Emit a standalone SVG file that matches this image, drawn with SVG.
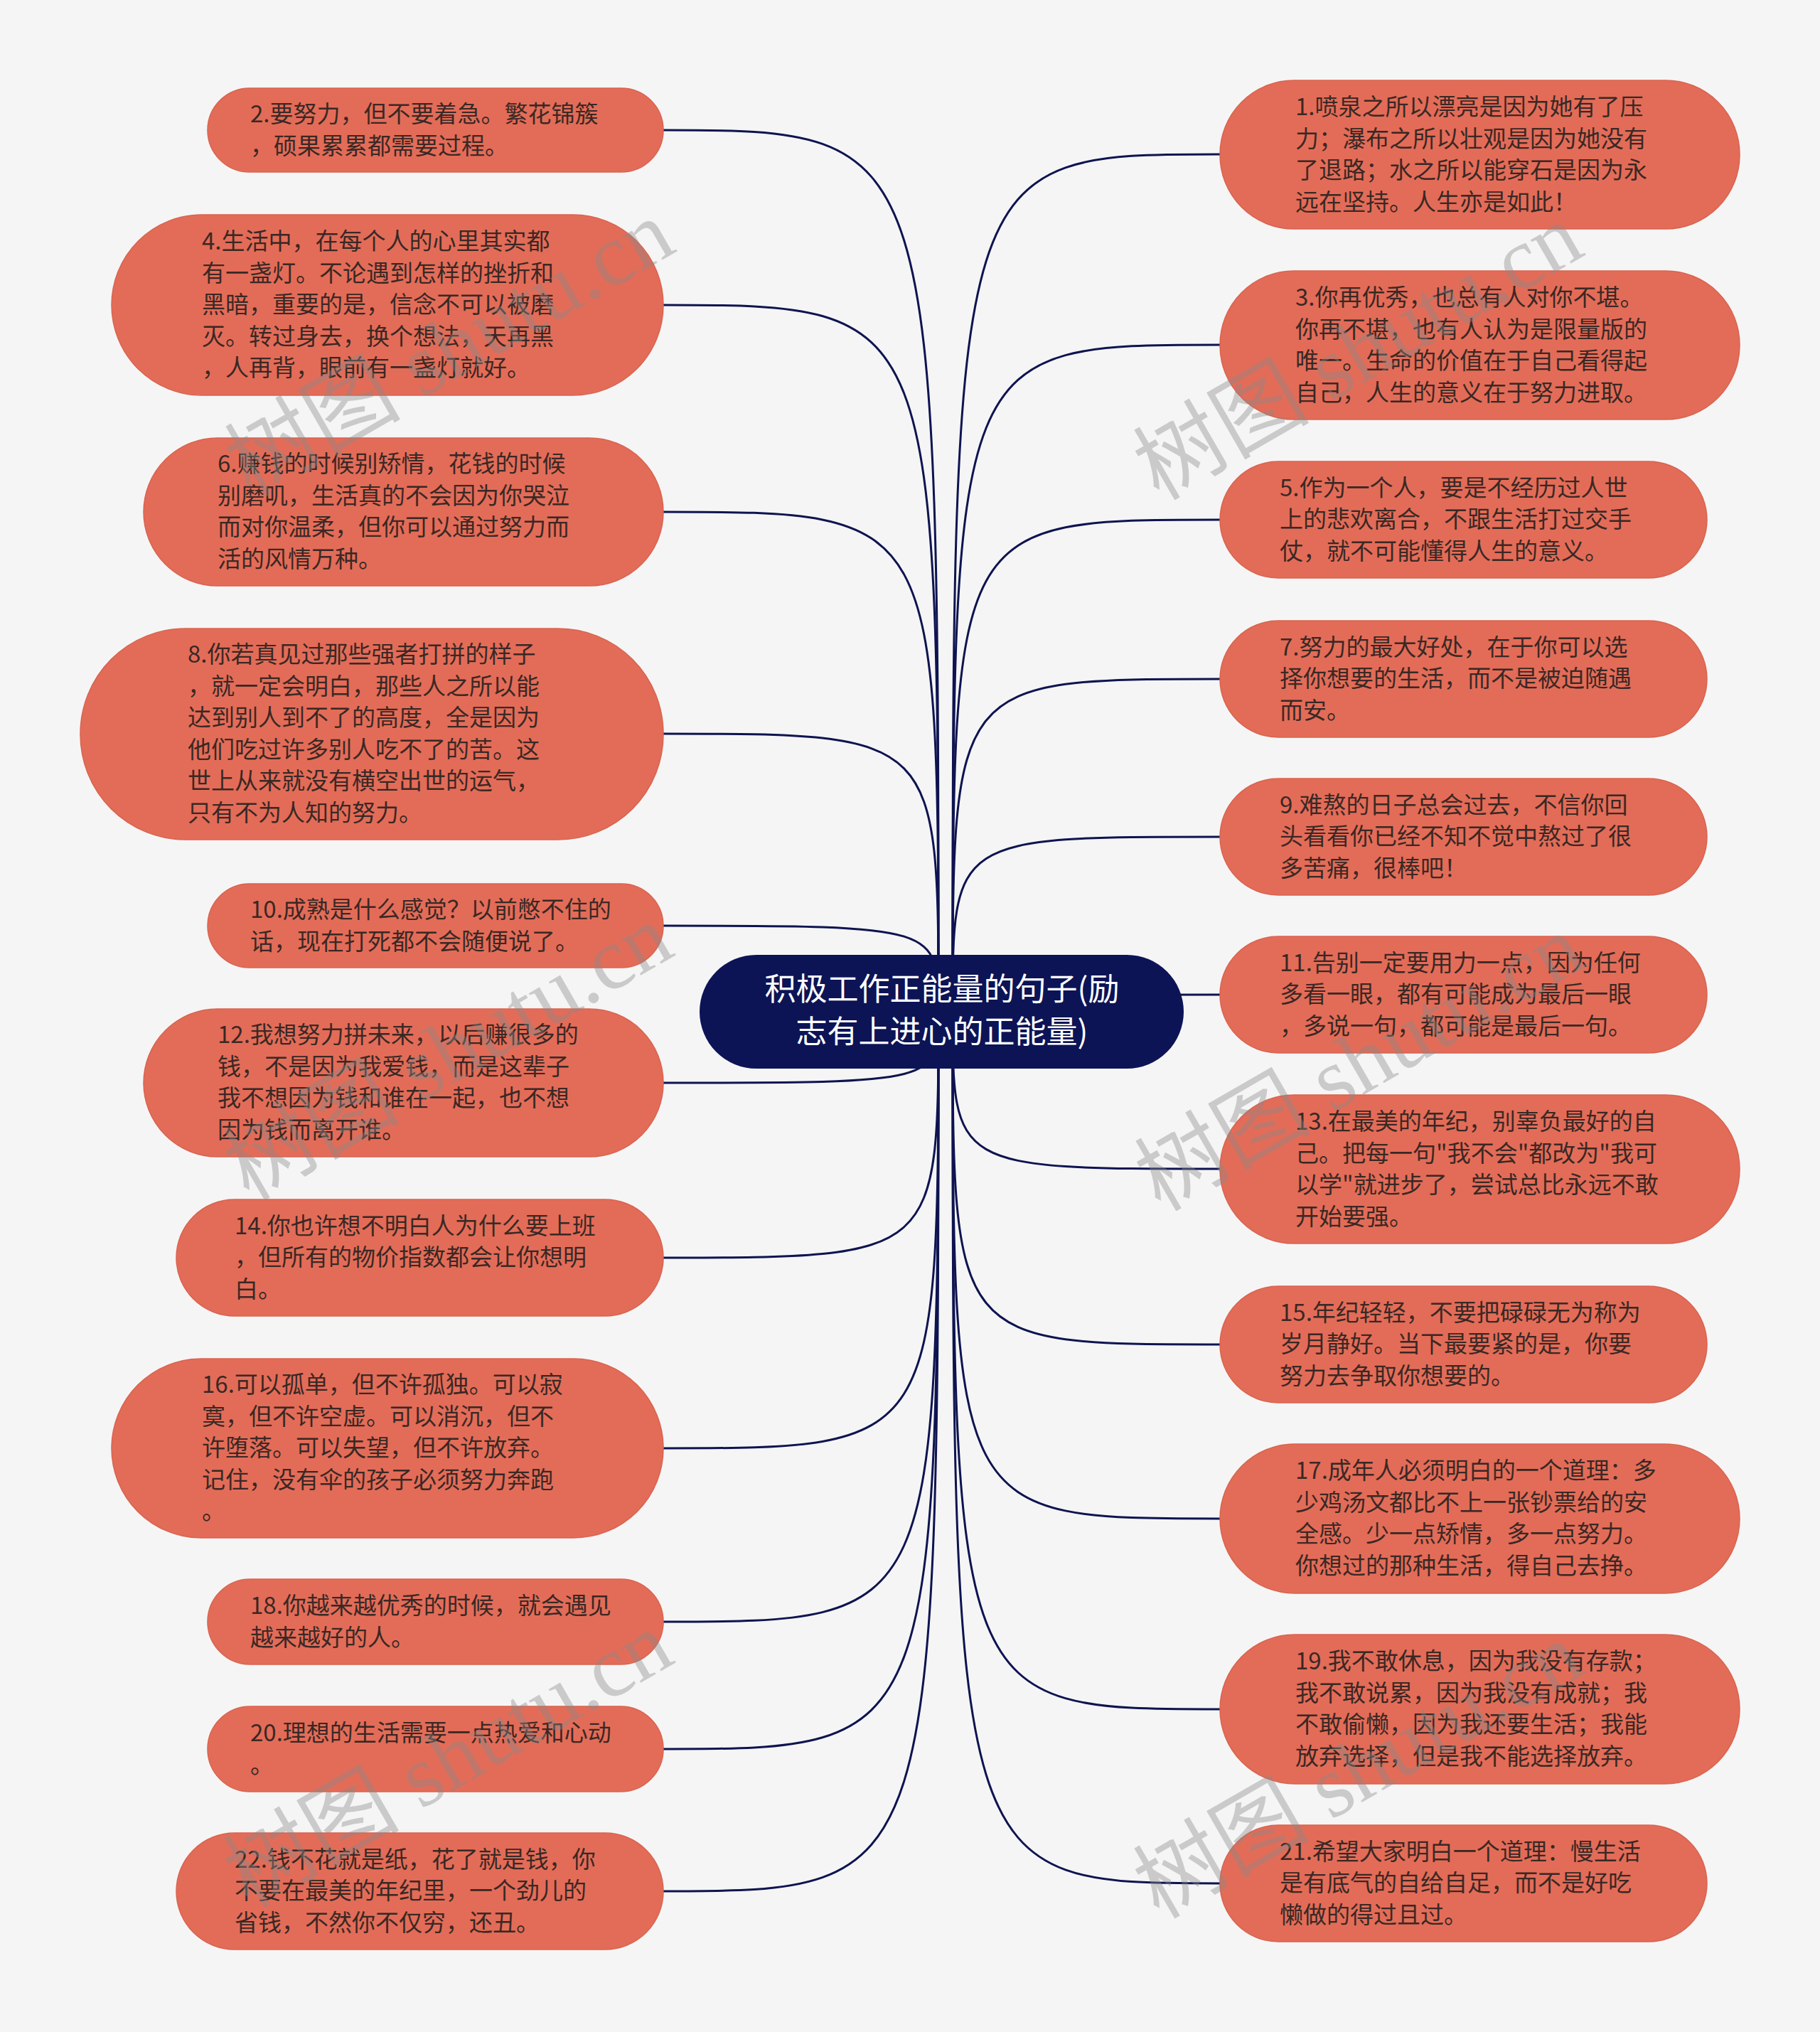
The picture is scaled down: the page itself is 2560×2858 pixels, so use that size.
<svg xmlns="http://www.w3.org/2000/svg" width="2560" height="2858" viewBox="0 0 2560 2858">
<style>
.bg{fill:#f5f5f5}
.node{fill:#e36c58;stroke:#d9634f;stroke-width:1.5}
.t{font-family:"Noto Sans CJK SC","Noto Sans",sans-serif;font-size:33px;fill:#3a2824}
.root{fill:#0c1456}
.rt{font-family:"Noto Sans CJK SC","Noto Sans",sans-serif;font-size:44px;fill:#ffffff;text-anchor:middle}
.c{fill:none;stroke:#0e1450;stroke-width:3}
.wm{font-family:"Liberation Serif","Noto Sans CJK SC",serif;font-size:124px;fill:#8a8a8a;fill-opacity:0.4}
</style>
<rect class="bg" x="0" y="0" width="2560" height="2858"/>
<g id="connectors">
<path class="c" d="M933 183 C1320 183 1320 183 1320 1423"/>
<path class="c" d="M933 429 C1320 429 1320 429 1320 1423"/>
<path class="c" d="M933 720 C1320 720 1320 720 1320 1423"/>
<path class="c" d="M933 1032 C1320 1032 1320 1032 1320 1423"/>
<path class="c" d="M933 1302 C1320 1302 1320 1302 1320 1423"/>
<path class="c" d="M933 1523 C1320 1523 1320 1523 1320 1423"/>
<path class="c" d="M933 1769 C1320 1769 1320 1769 1320 1423"/>
<path class="c" d="M933 2037 C1320 2037 1320 2037 1320 1423"/>
<path class="c" d="M933 2281 C1320 2281 1320 2281 1320 1423"/>
<path class="c" d="M933 2460 C1320 2460 1320 2460 1320 1423"/>
<path class="c" d="M933 2660 C1320 2660 1320 2660 1320 1423"/>
<path class="c" d="M1716 217 C1340 217 1340 217 1340 1423"/>
<path class="c" d="M1716 485 C1340 485 1340 485 1340 1423"/>
<path class="c" d="M1716 731 C1340 731 1340 731 1340 1423"/>
<path class="c" d="M1716 955 C1340 955 1340 955 1340 1423"/>
<path class="c" d="M1716 1177 C1340 1177 1340 1177 1340 1423"/>
<path class="c" d="M1716 1399 C1340 1399 1340 1399 1340 1423"/>
<path class="c" d="M1716 1644 C1340 1644 1340 1644 1340 1423"/>
<path class="c" d="M1716 1891 C1340 1891 1340 1891 1340 1423"/>
<path class="c" d="M1716 2136 C1340 2136 1340 2136 1340 1423"/>
<path class="c" d="M1716 2404 C1340 2404 1340 2404 1340 1423"/>
<path class="c" d="M1716 2649 C1340 2649 1340 2649 1340 1423"/>
</g>
<g id="root">
<rect class="root" x="984" y="1343" width="681" height="160" rx="80"/>
<text class="rt" x="1325" y="1407">积极工作正能量的句子(励</text>
<text class="rt" x="1325" y="1467">志有上进心的正能量)</text>
</g>
<g id="n2">
<rect class="node" x="292" y="124" width="641" height="118" rx="59"/>
<text class="t" y="172"><tspan x="352">2.要努力，但不要着急。繁花锦簇</tspan><tspan x="352" dy="44.5">，硕果累累都需要过程。</tspan></text>
</g>
<g id="n4">
<rect class="node" x="157" y="302" width="776" height="254" rx="127"/>
<text class="t" y="351"><tspan x="284">4.生活中，在每个人的心里其实都</tspan><tspan x="284" dy="44.5">有一盏灯。不论遇到怎样的挫折和</tspan><tspan x="284" dy="44.5">黑暗，重要的是，信念不可以被磨</tspan><tspan x="284" dy="44.5">灭。转过身去，换个想法，天再黑</tspan><tspan x="284" dy="44.5">，人再背，眼前有一盏灯就好。</tspan></text>
</g>
<g id="n6">
<rect class="node" x="202" y="616" width="731" height="208" rx="104"/>
<text class="t" y="664"><tspan x="306">6.赚钱的时候别矫情，花钱的时候</tspan><tspan x="306" dy="44.5">别磨叽，生活真的不会因为你哭泣</tspan><tspan x="306" dy="44.5">而对你温柔，但你可以通过努力而</tspan><tspan x="306" dy="44.5">活的风情万种。</tspan></text>
</g>
<g id="n8">
<rect class="node" x="113" y="884" width="820" height="297" rx="148"/>
<text class="t" y="932"><tspan x="264">8.你若真见过那些强者打拼的样子</tspan><tspan x="264" dy="44.5">，就一定会明白，那些人之所以能</tspan><tspan x="264" dy="44.5">达到别人到不了的高度，全是因为</tspan><tspan x="264" dy="44.5">他们吃过许多别人吃不了的苦。这</tspan><tspan x="264" dy="44.5">世上从来就没有横空出世的运气，</tspan><tspan x="264" dy="44.5">只有不为人知的努力。</tspan></text>
</g>
<g id="n10">
<rect class="node" x="292" y="1243" width="641" height="118" rx="59"/>
<text class="t" y="1291"><tspan x="352">10.成熟是什么感觉？以前憋不住的</tspan><tspan x="352" dy="44.5">话，现在打死都不会随便说了。</tspan></text>
</g>
<g id="n12">
<rect class="node" x="202" y="1419" width="731" height="208" rx="104"/>
<text class="t" y="1467"><tspan x="306">12.我想努力拼未来，以后赚很多的</tspan><tspan x="306" dy="44.5">钱，不是因为我爱钱，而是这辈子</tspan><tspan x="306" dy="44.5">我不想因为钱和谁在一起，也不想</tspan><tspan x="306" dy="44.5">因为钱而离开谁。</tspan></text>
</g>
<g id="n14">
<rect class="node" x="248" y="1687" width="685" height="164" rx="82"/>
<text class="t" y="1735.5"><tspan x="330">14.你也许想不明白人为什么要上班</tspan><tspan x="330" dy="44.5">，但所有的物价指数都会让你想明</tspan><tspan x="330" dy="44.5">白。</tspan></text>
</g>
<g id="n16">
<rect class="node" x="157" y="1911" width="776" height="252" rx="126"/>
<text class="t" y="1959"><tspan x="284">16.可以孤单，但不许孤独。可以寂</tspan><tspan x="284" dy="44.5">寞，但不许空虚。可以消沉，但不</tspan><tspan x="284" dy="44.5">许堕落。可以失望，但不许放弃。</tspan><tspan x="284" dy="44.5">记住，没有伞的孩子必须努力奔跑</tspan><tspan x="284" dy="44.5">。</tspan></text>
</g>
<g id="n18">
<rect class="node" x="292" y="2221" width="641" height="120" rx="60"/>
<text class="t" y="2270"><tspan x="352">18.你越来越优秀的时候，就会遇见</tspan><tspan x="352" dy="44.5">越来越好的人。</tspan></text>
</g>
<g id="n20">
<rect class="node" x="292" y="2400" width="641" height="120" rx="60"/>
<text class="t" y="2449"><tspan x="352">20.理想的生活需要一点热爱和心动</tspan><tspan x="352" dy="44.5">。</tspan></text>
</g>
<g id="n22">
<rect class="node" x="248" y="2578" width="685" height="164" rx="82"/>
<text class="t" y="2626.5"><tspan x="330">22.钱不花就是纸，花了就是钱，你</tspan><tspan x="330" dy="44.5">不要在最美的年纪里，一个劲儿的</tspan><tspan x="330" dy="44.5">省钱，不然你不仅穷，还丑。</tspan></text>
</g>
<g id="n1">
<rect class="node" x="1716" y="113" width="731" height="209" rx="104"/>
<text class="t" y="162"><tspan x="1822">1.喷泉之所以漂亮是因为她有了压</tspan><tspan x="1822" dy="44.5">力；瀑布之所以壮观是因为她没有</tspan><tspan x="1822" dy="44.5">了退路；水之所以能穿石是因为永</tspan><tspan x="1822" dy="44.5">远在坚持。人生亦是如此！</tspan></text>
</g>
<g id="n3">
<rect class="node" x="1716" y="381" width="731" height="209" rx="104"/>
<text class="t" y="430"><tspan x="1822">3.你再优秀，也总有人对你不堪。</tspan><tspan x="1822" dy="44.5">你再不堪，也有人认为是限量版的</tspan><tspan x="1822" dy="44.5">唯一。生命的价值在于自己看得起</tspan><tspan x="1822" dy="44.5">自己，人生的意义在于努力进取。</tspan></text>
</g>
<g id="n5">
<rect class="node" x="1716" y="649" width="685" height="164" rx="82"/>
<text class="t" y="697.5"><tspan x="1800">5.作为一个人，要是不经历过人世</tspan><tspan x="1800" dy="44.5">上的悲欢离合，不跟生活打过交手</tspan><tspan x="1800" dy="44.5">仗，就不可能懂得人生的意义。</tspan></text>
</g>
<g id="n7">
<rect class="node" x="1716" y="873" width="685" height="164" rx="82"/>
<text class="t" y="921.5"><tspan x="1800">7.努力的最大好处，在于你可以选</tspan><tspan x="1800" dy="44.5">择你想要的生活，而不是被迫随遇</tspan><tspan x="1800" dy="44.5">而安。</tspan></text>
</g>
<g id="n9">
<rect class="node" x="1716" y="1095" width="685" height="164" rx="82"/>
<text class="t" y="1143.5"><tspan x="1800">9.难熬的日子总会过去，不信你回</tspan><tspan x="1800" dy="44.5">头看看你已经不知不觉中熬过了很</tspan><tspan x="1800" dy="44.5">多苦痛，很棒吧！</tspan></text>
</g>
<g id="n11">
<rect class="node" x="1716" y="1317" width="685" height="164" rx="82"/>
<text class="t" y="1365.5"><tspan x="1800">11.告别一定要用力一点，因为任何</tspan><tspan x="1800" dy="44.5">多看一眼，都有可能成为最后一眼</tspan><tspan x="1800" dy="44.5">，多说一句，都可能是最后一句。</tspan></text>
</g>
<g id="n13">
<rect class="node" x="1716" y="1540" width="731" height="209" rx="104"/>
<text class="t" y="1589"><tspan x="1822">13.在最美的年纪，别辜负最好的自</tspan><tspan x="1822" dy="44.5">己。把每一句"我不会"都改为"我可</tspan><tspan x="1822" dy="44.5">以学"就进步了，尝试总比永远不敢</tspan><tspan x="1822" dy="44.5">开始要强。</tspan></text>
</g>
<g id="n15">
<rect class="node" x="1716" y="1809" width="685" height="164" rx="82"/>
<text class="t" y="1857.5"><tspan x="1800">15.年纪轻轻，不要把碌碌无为称为</tspan><tspan x="1800" dy="44.5">岁月静好。当下最要紧的是，你要</tspan><tspan x="1800" dy="44.5">努力去争取你想要的。</tspan></text>
</g>
<g id="n17">
<rect class="node" x="1716" y="2031" width="731" height="210" rx="105"/>
<text class="t" y="2080"><tspan x="1822">17.成年人必须明白的一个道理：多</tspan><tspan x="1822" dy="44.5">少鸡汤文都比不上一张钞票给的安</tspan><tspan x="1822" dy="44.5">全感。少一点矫情，多一点努力。</tspan><tspan x="1822" dy="44.5">你想过的那种生活，得自己去挣。</tspan></text>
</g>
<g id="n19">
<rect class="node" x="1716" y="2299" width="731" height="210" rx="105"/>
<text class="t" y="2348"><tspan x="1822">19.我不敢休息，因为我没有存款；</tspan><tspan x="1822" dy="44.5">我不敢说累，因为我没有成就；我</tspan><tspan x="1822" dy="44.5">不敢偷懒，因为我还要生活；我能</tspan><tspan x="1822" dy="44.5">放弃选择，但是我不能选择放弃。</tspan></text>
</g>
<g id="n21">
<rect class="node" x="1716" y="2567" width="685" height="164" rx="82"/>
<text class="t" y="2615.5"><tspan x="1800">21.希望大家明白一个道理：慢生活</tspan><tspan x="1800" dy="44.5">是有底气的自给自足，而不是好吃</tspan><tspan x="1800" dy="44.5">懒做的得过且过。</tspan></text>
</g>
<g id="watermarks">
<text class="wm" transform="translate(352 700) rotate(-30)">树图 shutu.cn</text>
<text class="wm" transform="translate(1630 705) rotate(-30)">树图 shutu.cn</text>
<text class="wm" transform="translate(350 1690) rotate(-30)">树图 shutu.cn</text>
<text class="wm" transform="translate(1632 1705) rotate(-30)">树图 shutu.cn</text>
<text class="wm" transform="translate(350 2685) rotate(-30)">树图 shutu.cn</text>
<text class="wm" transform="translate(1630 2700) rotate(-30)">树图 shutu.cn</text>
</g>
</svg>
